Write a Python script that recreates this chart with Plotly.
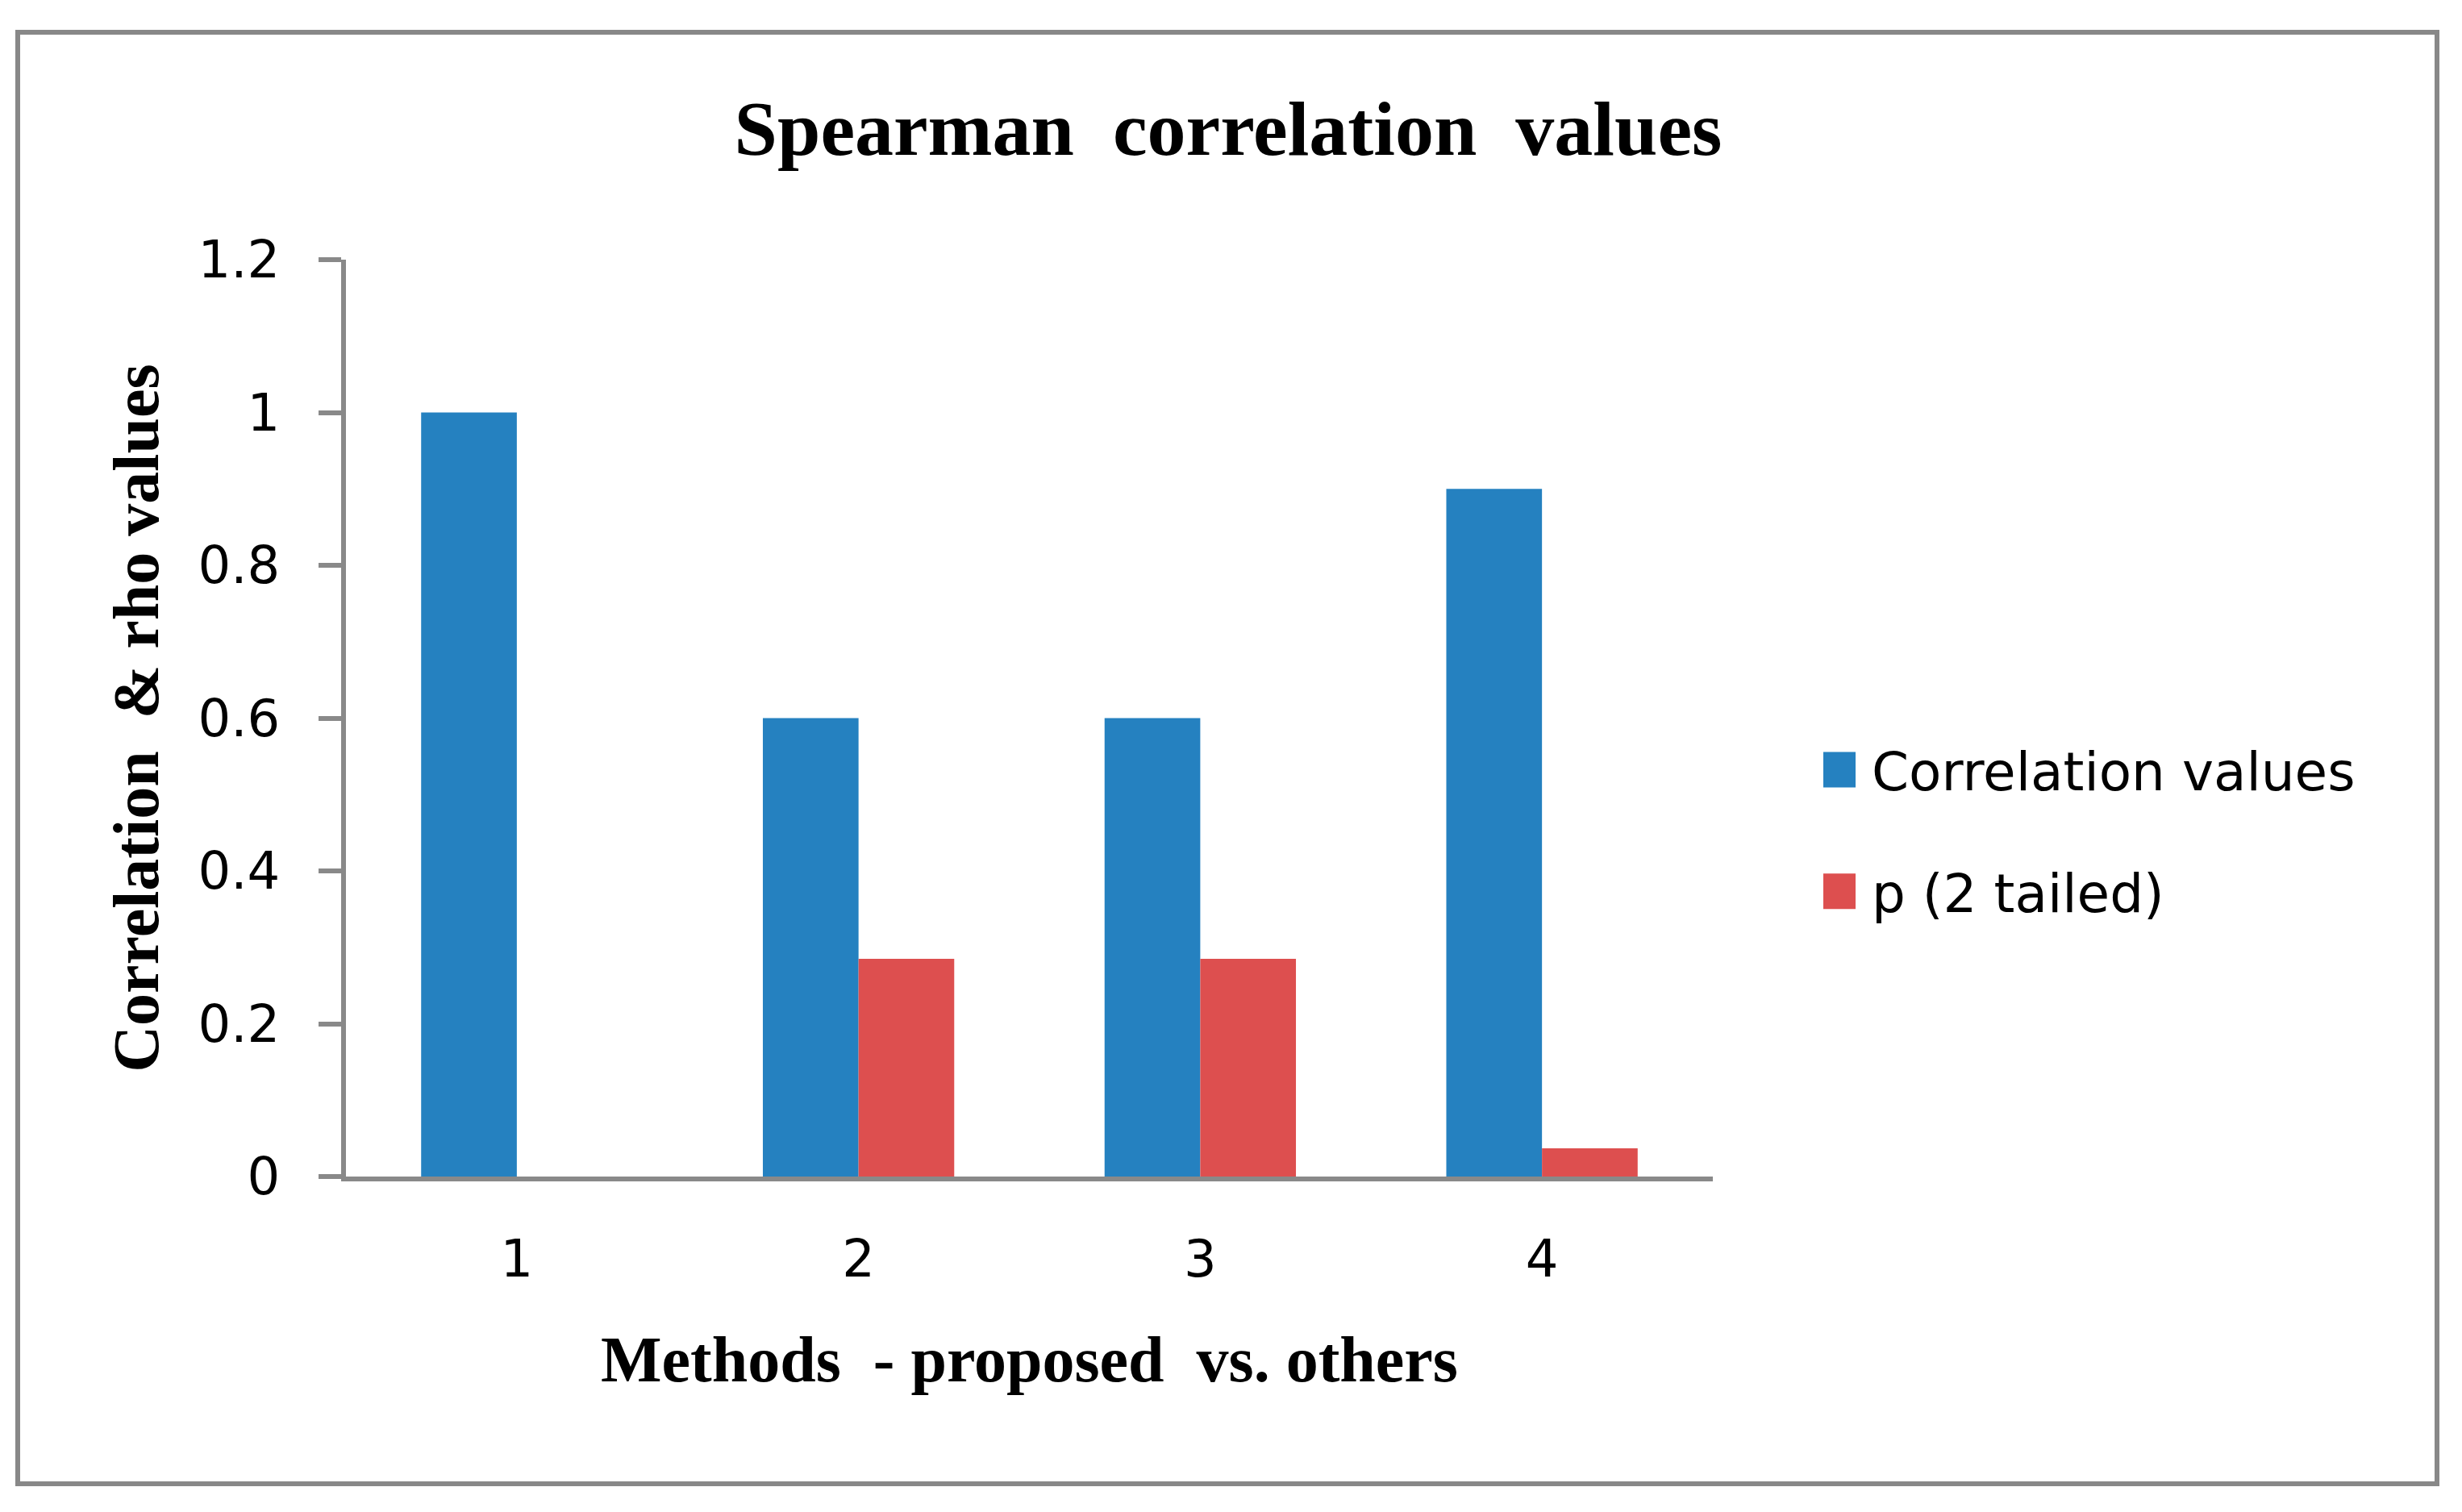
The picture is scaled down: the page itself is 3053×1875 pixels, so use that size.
import plotly.graph_objects as go

categories = ["1", "2", "3", "4"]
corr_values = [1.0, 0.6, 0.6, 0.9]
p_values = [0.0, 0.285, 0.285, 0.037]
series_names = ["Correlation values", "p (2 tailed)"]
y_ticks = [0, 0.2, 0.4, 0.6, 0.8, 1.0, 1.2]

# page has an 8px body margin, so the figure is 8px smaller than the window
W, H = 3045, 1867
L, R, T, B = 421, 929, 314, 416
pw, ph = W - L - R, H - T - B

BLUE = "#2581C0"
RED = "#DD4F4F"
AXIS = "#898989"
SANS = "DejaVu Sans"
SERIF = "Liberation Serif"

fig = go.Figure()
fig.add_trace(go.Bar(x=categories, y=corr_values, name=series_names[0],
                     marker=dict(color=BLUE, line=dict(width=0)), legendgroup="a"))
fig.add_trace(go.Bar(x=categories, y=p_values, name=series_names[1],
                     marker=dict(color=RED, line=dict(width=0)), legendgroup="b"))


def px_x(px):
    return (px - L) / pw


def px_y(py):
    return (H - B - py) / ph


fig.update_layout(
    width=W, height=H,
    margin=dict(l=L, r=R, t=T, b=B, autoexpand=False),
    paper_bgcolor="white", plot_bgcolor="white",
    barmode="group", bargap=0.44, bargroupgap=0,
    title=dict(text="<b>Spearman  correlation  values</b>",
               font=dict(family=SERIF, size=96, color="black"),
               x=px_x(1515), xref="paper", xanchor="center",
               y=1 - 150 / H, yref="container", yanchor="middle"),
    font=dict(family=SANS, color="black"),
    legend=dict(x=px_x(2233), xanchor="left", y=px_y(897), yanchor="top",
                font=dict(family=SANS, size=66, color="black"),
                traceorder="grouped", tracegroupgap=62, itemwidth=70,
                bgcolor="rgba(0,0,0,0)", borderwidth=0),
    xaxis=dict(type="category", showline=True, linecolor=AXIS, linewidth=6,
               ticks="", showgrid=False, zeroline=False,
               tickfont=dict(family=SANS, size=64, color="black"),
               ticklabelstandoff=41,
               title=dict(text="<b>Methods  - proposed  vs. others</b>",
                          font=dict(family=SERIF, size=80, color="black"),
                          standoff=62)),
    yaxis=dict(range=[0, 1.2], tickvals=y_ticks, showline=True, linecolor=AXIS,
               linewidth=6, ticks="outside", ticklen=28, tickwidth=6, tickcolor=AXIS,
               showgrid=False, zeroline=False,
               tickfont=dict(family=SANS, size=64, color="black"),
               ticklabelstandoff=35,
               title=dict(text="<b>Correlation  & rho values</b>",
                          font=dict(family=SERIF, size=80, color="black"),
                          standoff=24)),
    shapes=[dict(type="rect", xref="paper", yref="paper",
                 x0=px_x(14), x1=px_x(3014), y0=px_y(1832), y1=px_y(32),
                 line=dict(color="#888888", width=6), fillcolor="rgba(0,0,0,0)",
                 layer="below")],
)

post = """
var gd = document.getElementById('{plot_id}');
function bigLegend(){
  gd.querySelectorAll('.legendpoints path').forEach(function(p){
    p.setAttribute('d','M20,22H-20V-22H20Z');
  });
}
bigLegend();
gd.on('plotly_afterplot', bigLegend);
"""

fig.write_html("out.html", post_script=post)
